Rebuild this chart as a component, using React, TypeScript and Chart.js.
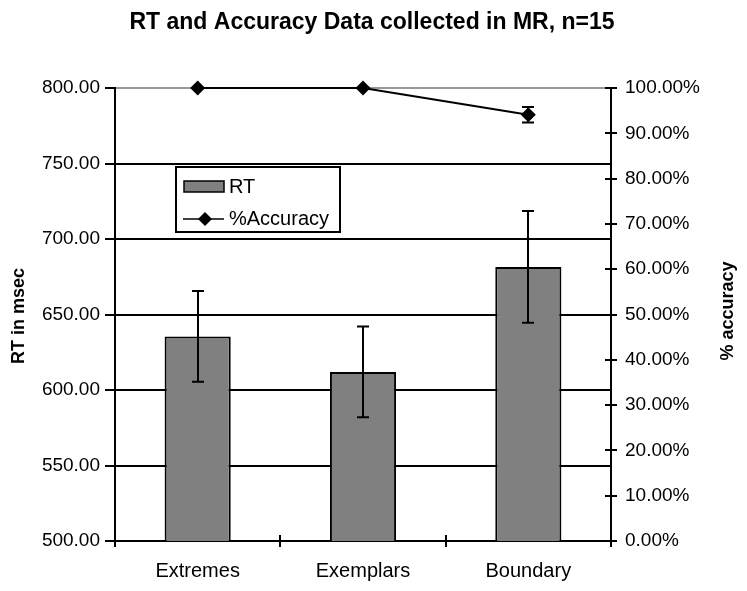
import React, { useEffect, useRef } from "react";
import { Chart, registerables } from "chart.js";

Chart.register(...registerables);

const categories = ["Extremes", "Exemplars", "Boundary"];
const rtValues = [635.5, 612, 681.5];
const rtErrors = [30, 30, 37];
const accuracyValues = [1.0, 1.0, 0.941];
const accuracyErrors = [0, 0, 0.017];
const titleText = "RT and Accuracy Data collected in MR, n=15";
const leftAxisTitle = "RT in msec";
const rightAxisTitle = "% accuracy";
const legendLabels = ["RT", "%Accuracy"];

const FONT = '"Liberation Sans", Arial, sans-serif';

const decorPlugin = {
  id: "decor",
  afterDatasetDraw(chart: any, args: any) {
    const ctx = chart.ctx;
    const meta = args.meta;
    if (args.index === 0) {
      const yS = chart.scales.y;
      ctx.save();
      ctx.strokeStyle = "#000";
      ctx.lineWidth = 2;
      meta.data.forEach((el: any, i: number) => {
        const x = Math.round(el.x);
        const top = yS.getPixelForValue(rtValues[i] + rtErrors[i]);
        const bot = yS.getPixelForValue(rtValues[i] - rtErrors[i]);
        ctx.beginPath();
        ctx.moveTo(x, top);
        ctx.lineTo(x, bot);
        ctx.moveTo(x - 6, top);
        ctx.lineTo(x + 6, top);
        ctx.moveTo(x - 6, bot);
        ctx.lineTo(x + 6, bot);
        ctx.stroke();
      });
      ctx.restore();
    }
    if (args.index === 1) {
      const yS = chart.scales.y2;
      ctx.save();
      ctx.strokeStyle = "#000";
      ctx.lineWidth = 2;
      meta.data.forEach((el: any, i: number) => {
        if (!accuracyErrors[i]) return;
        const x = Math.round(el.x);
        const top = yS.getPixelForValue(accuracyValues[i] + accuracyErrors[i]);
        const bot = yS.getPixelForValue(accuracyValues[i] - accuracyErrors[i]);
        ctx.beginPath();
        ctx.moveTo(x, top);
        ctx.lineTo(x, bot);
        ctx.moveTo(x - 6, top);
        ctx.lineTo(x + 6, top);
        ctx.moveTo(x - 6, bot);
        ctx.lineTo(x + 6, bot);
        ctx.stroke();
      });
      ctx.restore();
    }
  },
  afterDraw(chart: any) {
    const ctx = chart.ctx;
    const area = chart.chartArea;
    const y2 = chart.scales.y2;
    ctx.save();
    ctx.strokeStyle = "#000";
    ctx.lineWidth = 2;
    y2.ticks.forEach((t: any) => {
      const y = Math.round(y2.getPixelForValue(t.value));
      ctx.beginPath();
      ctx.moveTo(area.right - 6, y);
      ctx.lineTo(area.right + 6, y);
      ctx.stroke();
    });
    const n = categories.length;
    for (let i = 0; i <= n; i++) {
      const x = Math.round(area.left + ((area.right - area.left) * i) / n);
      ctx.beginPath();
      ctx.moveTo(x, area.bottom - 6);
      ctx.lineTo(x, area.bottom + 6);
      ctx.stroke();
    }
    ctx.fillStyle = "#000";
    ctx.font = `bold 23px ${FONT}`;
    ctx.textAlign = "center";
    ctx.textBaseline = "middle";
    ctx.fillText(titleText, 372, 23);
    ctx.font = `bold 18px ${FONT}`;
    ctx.save();
    ctx.translate(19, 316);
    ctx.rotate(-Math.PI / 2);
    ctx.fillText(leftAxisTitle, 0, 0);
    ctx.restore();
    ctx.save();
    ctx.translate(728, 311);
    ctx.rotate(-Math.PI / 2);
    ctx.fillText(rightAxisTitle, 0, 0);
    ctx.restore();
    const lx = 176, ly = 167, lw = 164, lh = 65;
    ctx.fillStyle = "#fff";
    ctx.fillRect(lx, ly, lw, lh);
    ctx.strokeStyle = "#000";
    ctx.lineWidth = 2;
    ctx.strokeRect(lx, ly, lw, lh);
    ctx.fillStyle = "#808080";
    ctx.fillRect(184, 181, 40, 11);
    ctx.lineWidth = 1.5;
    ctx.strokeRect(184, 181, 40, 11);
    ctx.beginPath();
    ctx.moveTo(183, 219);
    ctx.lineTo(224, 219);
    ctx.stroke();
    ctx.fillStyle = "#000";
    ctx.beginPath();
    ctx.moveTo(205, 212);
    ctx.lineTo(212, 219);
    ctx.lineTo(205, 226);
    ctx.lineTo(198, 219);
    ctx.closePath();
    ctx.fill();
    ctx.font = `20px ${FONT}`;
    ctx.textAlign = "left";
    ctx.textBaseline = "middle";
    ctx.fillText(legendLabels[0], 229, 187);
    ctx.fillText(legendLabels[1], 229, 219);
    ctx.restore();
  },
};

export default function App() {
  const ref = useRef<HTMLCanvasElement | null>(null);
  useEffect(() => {
    document.body.style.margin = "0";
    const canvas = ref.current!;
    const chart = new Chart(canvas, {
      type: "bar",
      data: {
        labels: categories,
        datasets: [
          {
            type: "bar",
            label: legendLabels[0],
            data: rtValues,
            backgroundColor: "#808080",
            borderColor: "#000",
            borderWidth: 2,
            yAxisID: "y",
            order: 1,
            barPercentage: 0.5,
            categoryPercentage: 0.8,
          },
          {
            type: "line",
            label: legendLabels[1],
            data: accuracyValues,
            borderColor: "#000",
            borderWidth: 2,
            pointStyle: "rectRot",
            pointRadius: 7.5,
            pointBackgroundColor: "#000",
            pointBorderColor: "#000",
            pointBorderWidth: 0,
            yAxisID: "y2",
            order: 0,
            clip: false,
          },
        ],
      },
      options: {
        responsive: false,
        devicePixelRatio: 1,
        animation: false,
        layout: { padding: { top: 88, left: 0, right: 0, bottom: 0 } },
        plugins: {
          legend: { display: false },
          title: { display: false },
          tooltip: { enabled: false },
        },
        scales: {
          x: {
            type: "category",
            grid: { display: false, drawTicks: false },
            border: { display: true, color: "#000", width: 2 },
            ticks: { color: "#000", font: { family: FONT, size: 20 }, padding: 18 },
            afterFit: (s: any) => { s.height = 50; },
          },
          y: {
            position: "left",
            min: 500,
            max: 800,
            ticks: {
              stepSize: 50,
              color: "#000",
              font: { family: FONT, size: 19 },
              padding: 5,
              callback: (v: any) => Number(v).toFixed(2),
            },
            grid: {
              color: (c: any) => (c.tick && c.tick.value === 800 ? "#999" : "#000"),
              tickColor: "#000",
              lineWidth: 2,
              tickLength: 10,
              drawTicks: true,
            },
            border: { display: true, color: "#000", width: 2 },
            afterFit: (s: any) => { s.width = 115; },
          },
          y2: {
            position: "right",
            min: 0,
            max: 1,
            ticks: {
              stepSize: 0.1,
              color: "#000",
              font: { family: FONT, size: 19 },
              padding: 14,
              callback: (v: any) => (Number(v) * 100).toFixed(2) + "%",
            },
            grid: { display: false, drawTicks: false, drawOnChartArea: false },
            border: { display: true, color: "#000", width: 2 },
            afterFit: (s: any) => { s.width = 136; },
          },
        },
      },
      plugins: [decorPlugin],
    } as any);
    return () => chart.destroy();
  }, []);
  return <canvas ref={ref} width={747} height={591} />;
}
